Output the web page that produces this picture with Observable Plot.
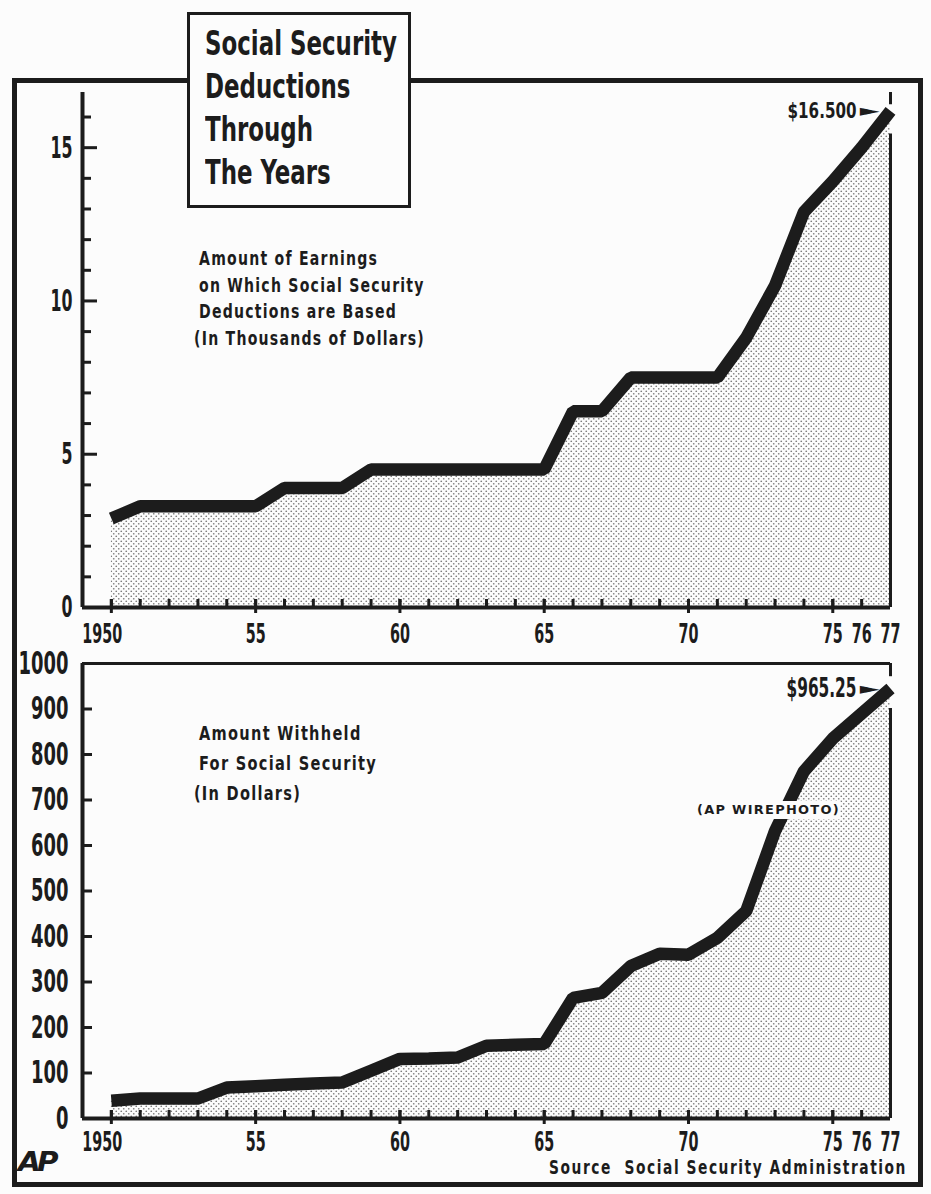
<!DOCTYPE html>
<html><head><meta charset="utf-8">
<script src="https://cdn.jsdelivr.net/npm/d3@7"></script>
<script src="https://cdn.jsdelivr.net/npm/@observablehq/plot@0.6"></script>
<style>
html,body{margin:0;padding:0;background:#fcfcfc;}
#page{position:relative;width:931px;height:1194px;overflow:hidden;background:#fcfcfc;color:#1c1c1c;
  font-family:"Liberation Sans Narrow","Arial Narrow","DejaVu Sans Condensed",sans-serif;font-weight:bold;}
.abs{position:absolute;white-space:nowrap;}
#frame{left:12px;top:78px;width:911px;height:1109px;border:5px solid #1c1c1c;box-sizing:border-box;}
#titlebox{left:187px;top:12px;width:224px;height:196px;border:3px solid #1c1c1c;box-sizing:border-box;background:#fcfcfc;}
#title{left:205px;top:22px;font-size:33px;line-height:43px;}
.sub{font-size:19px;letter-spacing:1.5px;}
#sub1{left:199px;top:245px;line-height:26.5px;}
#sub2{left:199px;top:718px;line-height:30px;}
#wire{left:697px;top:801px;font-family:"DejaVu Sans",sans-serif;font-size:12px;letter-spacing:1.2px;background:#fcfcfc;padding:2px 0;}
#source{left:549px;top:1155px;font-size:20px;letter-spacing:2px;}
#ap{left:18px;top:1146px;font-size:27px;font-style:italic;letter-spacing:-3px;}
</style></head><body>
<div id="page">
  <div id="frame" class="abs"></div>
  <div id="top" class="abs" style="left:0;top:0"></div>
  <div id="bottom" class="abs" style="left:0;top:655px"></div>
  <div id="titlebox" class="abs"></div>
  <div id="title" class="abs">Social Security<br>Deductions<br>Through<br>The Years</div>
  <div id="sub1" class="abs sub">Amount of Earnings<br>on Which Social Security<br>Deductions are Based<br><span style="margin-left:-6px">(In Thousands of Dollars)</span></div>
  <div id="sub2" class="abs sub">Amount Withheld<br>For Social Security<br><span style="margin-left:-6px">(In Dollars)</span></div>
  <div id="wire" class="abs">(AP WIREPHOTO)</div>
  <div id="source" class="abs">Source&nbsp; Social Security Administration</div>
  <div id="ap" class="abs">AP</div>
</div>
<script>
// ---- data ----
const years = [1950,1951,1952,1953,1954,1955,1956,1957,1958,1959,1960,1961,1962,1963,
               1964,1965,1966,1967,1968,1969,1970,1971,1972,1973,1974,1975,1976,1977];
// Amount of earnings on which deductions are based, thousands of dollars
const earnings = [2.9,3.3,3.3,3.3,3.3,3.3,3.9,3.9,3.9,4.5,4.5,4.5,4.5,4.5,
                  4.5,4.5,6.4,6.4,7.5,7.5,7.5,7.5,8.8,10.5,12.9,13.9,15.0,16.2];
// Amount withheld, dollars
const withheld = [39,44,44,44,68,71,74,77,79,105,131,132,134,160,
                  162,164,265,276,335,362,360,397,456,632,763,835,890,945];
const firstTick = [1950];
const xTicks = [1955,1960,1965,1970,1975,1976,1977];
const xTickLabels = ["55","60","65","70","75","76","77"];
const firstTickLabel = "1950";
const majorYears = [1950,1955,1960,1965,1970,1975];
const topYLabels = [0,5,10,15];
const topMinorY = [1,2,3,4,6,7,8,9,11,12,13,14,16];
const topMajorY = [5,10,15];
const botYLabels = [0,100,200,300,400,500,600,700,800,900,1000];
const botTicksY = [100,200,300,400,500,600,700,800,900];
const topEndLabel = "$16.500";
const botEndLabel = "$965.25";

// ---- layout ----
const W = 931, ML = 82, MR = 41, FW = W - ML - MR;
const INK = "#1c1c1c";
const FONT = '"Liberation Sans Narrow","Arial Narrow","DejaVu Sans Condensed",sans-serif';
const fmtX = d => xTickLabels[xTicks.indexOf(d)];

function panel(o) {
  const data = years.map((year, i) => ({year, value: o.values[i]}));
  const last = data[data.length - 1];
  const FH = o.height - o.marginTop - o.marginBottom;
  const axisText = {tickSize: 0, tickPadding: o.xPad, label: null,
    fontSize: 26, fontFamily: FONT, fontWeight: "bold", fill: INK};
  const chart = Plot.plot({
    width: W, height: o.height,
    marginLeft: ML, marginRight: MR, marginTop: o.marginTop, marginBottom: o.marginBottom,
    style: {background: "transparent", overflow: "visible"},
    x: {domain: [1949, 1977]},
    y: {domain: [0, o.yMax]},
    marks: [
      Plot.areaY(data, {x: "year", y: "value", fill: `url(#${o.patId})`}),
      Plot.ruleX([1949], {stroke: INK, strokeWidth: 4}),
      Plot.ruleY([0], {stroke: INK, strokeWidth: 4}),
      o.topRule ? Plot.ruleY([o.yMax], {stroke: INK, strokeWidth: 3}) : null,
      Plot.ruleX([1977], {y1: 0, y2: last.value - o.gapBelow, stroke: INK, strokeWidth: 3}),
      Plot.ruleX([1977], {y1: last.value + o.gapAbove, y2: o.yMax, stroke: INK, strokeWidth: 3}),
      Plot.ruleX(years, {insetTop: FH - 8, stroke: INK, strokeWidth: 3}),
      Plot.ruleX(majorYears, {insetTop: FH - 8, insetBottom: -6, stroke: INK, strokeWidth: 3}),
      o.minorY ? Plot.ruleY(o.minorY, {insetRight: FW - o.minorLen, stroke: INK, strokeWidth: 3}) : null,
      Plot.ruleY(o.majorY, {insetRight: FW - o.majorLen, stroke: INK, strokeWidth: 3}),
      Plot.axisX({ticks: firstTick, tickFormat: () => firstTickLabel, dx: -9, ...axisText}),
      Plot.axisX({ticks: xTicks, tickFormat: fmtX, ...axisText}),
      Plot.axisY({ticks: o.yLabels, tickFormat: d => String(d), tickSize: 0, tickPadding: o.yPad, label: null,
        fontSize: o.ySize, fontFamily: FONT, fontWeight: "bold", fill: INK}),
      Plot.line(data, {x: "year", y: "value", stroke: INK, strokeWidth: 12.5,
        strokeLinejoin: "miter", strokeLinecap: "butt"}),
      Plot.text([last], {x: "year", y: "value", text: () => o.label, textAnchor: "end", dx: -34,
        fontSize: o.labelSize, fontFamily: FONT, fontWeight: "bold", fill: INK}),
      Plot.text([last], {x: "year", y: "value", text: () => "\u25BA", textAnchor: "end", dx: -11,
        fontSize: 16, fontFamily: "DejaVu Sans", fill: INK})
    ]
  });
  d3.select(chart).insert("defs", ":first-child").html(
    `<pattern id="${o.patId}" width="5" height="5" patternUnits="userSpaceOnUse">
       <circle cx="1.25" cy="1.25" r="0.85" fill="#7a7a7a"/>
       <circle cx="3.75" cy="3.75" r="0.85" fill="#7a7a7a"/>
     </pattern>`);
  return chart;
}

// horizontally condense texts about their own anchor point
function squeezeTexts(texts, s) {
  texts.forEach(t => {
    let x = 0, y = 0;
    const ax = t.getAttribute("x"), ay = t.getAttribute("y");
    if (ax != null && /^-?[\d.]+$/.test(ax.trim())) { x = +ax; t.removeAttribute("x"); }
    if (ay != null && /^-?[\d.]+$/.test(ay.trim())) { y = +ay; t.removeAttribute("y"); }
    const tr = t.getAttribute("transform") || "";
    t.setAttribute("transform", `${tr} translate(${x},${y}) scale(${s},1)`);
  });
}
function squeezeAxis(svg, label, sample, targetWidth) {
  const texts = Array.from(svg.querySelectorAll(`g[aria-label="${label}"] text`));
  if (!texts.length) return;
  const ref = texts.find(t => t.textContent === sample) || texts[0];
  squeezeTexts(texts, targetWidth / ref.getComputedTextLength());
}
function squeezeEnd(svg, labelWidth, arrowScale) {
  const groups = svg.querySelectorAll('g[aria-label="text"]');
  const lab = groups[0] ? Array.from(groups[0].querySelectorAll("text")) : [];
  const arr = groups[1] ? Array.from(groups[1].querySelectorAll("text")) : [];
  if (lab.length) squeezeTexts(lab, labelWidth / lab[0].getComputedTextLength());
  if (arr.length) squeezeTexts(arr, arrowScale);
}

const topChart = panel({
  values: earnings, yMax: 16.8, height: 655, marginTop: 92, marginBottom: 48,
  yLabels: topYLabels, minorY: topMinorY, majorY: topMajorY, minorLen: 9, majorLen: 15,
  xPad: 17, yPad: 10, ySize: 31, patId: "dotsTop", label: topEndLabel, labelSize: 22,
  gapAbove: 0.2, gapBelow: 0.75, topRule: false
});
document.getElementById("top").appendChild(topChart);
squeezeAxis(topChart, "x-axis tick label", "1950", 40);
squeezeAxis(topChart, "y-axis tick label", "10", 22);
squeezeEnd(topChart, 69, 1.6);

const botChart = panel({
  values: withheld, yMax: 1000, height: 539, marginTop: 8, marginBottom: 76,
  yLabels: botYLabels, minorY: null, majorY: botTicksY, minorLen: 0, majorLen: 10,
  xPad: 14, yPad: 14, ySize: 32, patId: "dotsBot", label: botEndLabel, labelSize: 27,
  gapAbove: 26, gapBelow: 44, topRule: true
});
document.getElementById("bottom").appendChild(botChart);
squeezeAxis(botChart, "x-axis tick label", "1950", 40);
squeezeAxis(botChart, "y-axis tick label", "1000", 50);
squeezeEnd(botChart, 70, 1.6);

// condense the HTML texts to the widths they take in the picture
function fitX(id, target) {
  const el = document.getElementById(id);
  const w = el.getBoundingClientRect().width;
  el.style.transformOrigin = "0 0";
  el.style.transform = `scaleX(${target / w})`;
}
fitX("title", 192);
fitX("sub1", 226);
fitX("sub2", 178);
fitX("source", 358);
fitX("wire", 143);
fitX("ap", 37);
</script>
</body></html>
